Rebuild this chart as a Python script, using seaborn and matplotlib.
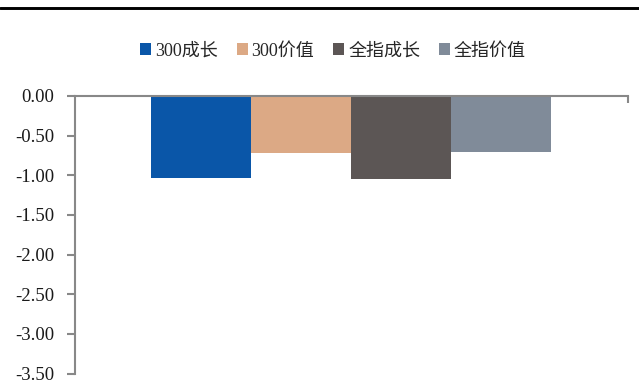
import matplotlib
matplotlib.use("Agg")
import matplotlib.pyplot as plt
import seaborn as sns
import pandas as pd
from matplotlib.lines import Line2D
from matplotlib.patches import Patch

series = ["300成长", "300价值", "全指成长", "全指价值"]
values = [-1.04, -0.715, -1.045, -0.71]
colors = ["#0A56A8", "#DCA985", "#5C5655", "#808B99"]
yticks = [0.0, -0.5, -1.0, -1.5, -2.0, -2.5, -3.0, -3.5]

sns.set_theme(style="white")
plt.rcParams["font.family"] = ["Liberation Serif", "Noto Sans CJK SC"]

df = pd.DataFrame({"cat": ["A"] * 4, "series": series, "value": values})

fig = plt.figure(figsize=(6.39, 3.83), dpi=100)
ax = fig.add_axes([75 / 639, 1 - 373.5 / 383, (627.7 - 75) / 639, (373.5 - 96) / 383])

sns.barplot(data=df, x="cat", y="value", hue="series", hue_order=series,
            palette=colors, width=0.8, saturation=1, ax=ax, legend=False,
            edgecolor="none", linewidth=0)

ax.set_xlim(-0.5527, 0.5527)
ax.set_ylim(-3.5, 0)
ax.set_yticks(yticks)
ax.set_yticklabels([f"{v:.2f}" for v in yticks], fontsize=13.5, color="#1a1a1a")
ax.set_xlabel("")
ax.set_ylabel("")

for s in ["bottom", "right"]:
    ax.spines[s].set_visible(False)
for s in ["top", "left"]:
    ax.spines[s].set_color("#888888")
    ax.spines[s].set_linewidth(1.5)

ax.xaxis.tick_top()
ax.set_xticks([ax.get_xlim()[1]])
ax.set_xticklabels([])
ax.tick_params(axis="x", direction="in", length=5, width=1.5, color="#888888")
ax.tick_params(axis="y", direction="out", left=True, length=6, width=1.5,
               color="#888888", pad=9)

handles = [Patch(facecolor=c, edgecolor="none") for c in colors]
fig.legend(handles, series, loc="center", bbox_to_anchor=(333 / 639, 1 - 51 / 383),
           ncol=4, frameon=False, fontsize=13, handlelength=0.62, handleheight=0.62,
           handletextpad=0.2, columnspacing=1.05, borderpad=0)

fig.add_artist(Line2D([0, 1], [1 - 7.5 / 383, 1 - 7.5 / 383], color="black",
                      linewidth=2.1, transform=fig.transFigure))

fig.savefig("out.png", dpi=100)
